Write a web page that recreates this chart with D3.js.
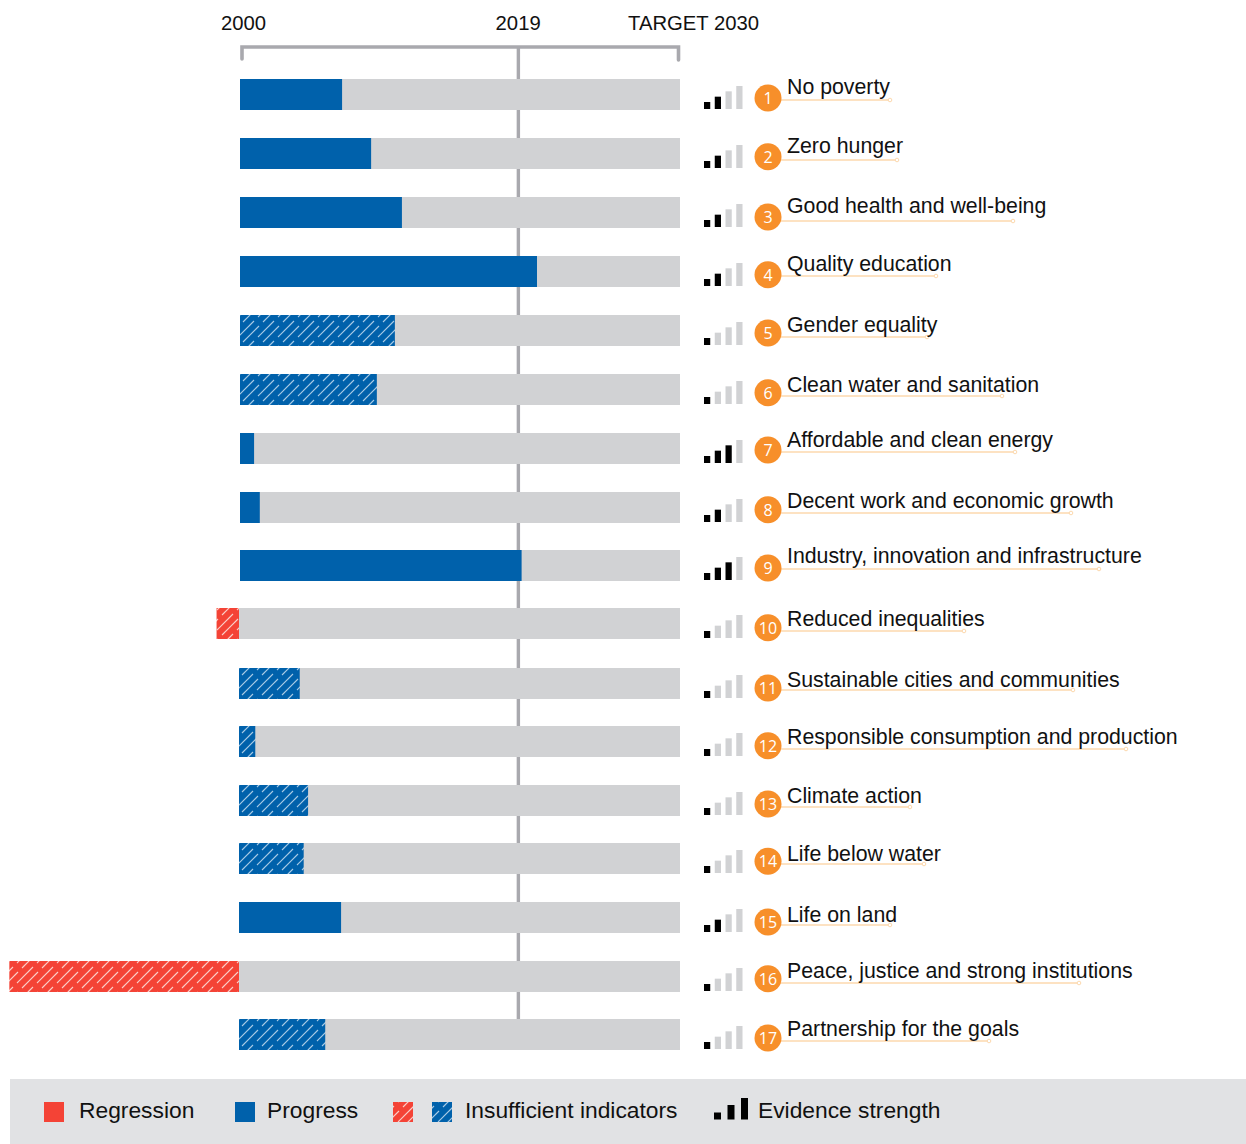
<!DOCTYPE html>
<html>
<head>
<meta charset="utf-8">
<script src="https://cdn.jsdelivr.net/npm/d3@7"></script>
<style>
html, body { margin: 0; padding: 0; background: #fff; }
svg { display: block; font-family: "Liberation Sans", Arial, sans-serif; }
</style>
</head>
<body>
<svg id="chart" width="1246" height="1144"></svg>
<script>
const goals = ["No poverty", "Zero hunger", "Good health and well-being", "Quality education",
  "Gender equality", "Clean water and sanitation", "Affordable and clean energy",
  "Decent work and economic growth", "Industry, innovation and infrastructure",
  "Reduced inequalities", "Sustainable cities and communities",
  "Responsible consumption and production", "Climate action", "Life below water",
  "Life on land", "Peace, justice and strong institutions", "Partnership for the goals"];
// Share of the road to the 2030 target covered so far, in percent
const progress = [23.2, 29.8, 36.8, 67.5, 35.2, 31.1, 3.2, 4.5, 64, -5.1, 13.8, 3.7, 15.7, 14.7, 23.2, -52.2, 19.6];
const insufficient = [0, 0, 0, 0, 1, 1, 0, 0, 0, 1, 1, 1, 1, 1, 0, 1, 1];
const evidence = [2, 2, 2, 2, 1, 1, 3, 2, 3, 1, 1, 1, 1, 1, 2, 1, 1];
const years = [2000, 2019, 2030];
const yearLabels = ["2000", "2019", "TARGET 2030"];

// Hand-set layout nudges: the artwork's rows and captions are not on a perfect grid
const rowShift = [0, 0.25, 0.5, 0.75, 1, 1.25, 1.5, 1.75, 1, 0.25, 1.5, 0.75, 1, 0.25, 0.5, 0.75, 0];
const rowDrift = [0, 0, 0, 0, 0, 0, 0, 0, 0, -1, -1, -1, -1, -1, -1, -1, -1];
const captionShift = [-7.5, -7, -6, -6.5, -4.5, -3, -7, -4.5, -8.5, -4, -2, -3.5, -3.5, -4, -2, -4.5, -5.5];
const badgeShift = [3.5, 3.5, 5, 4, 3.5, 4.5, 3, 4, 3.5, 4.5, 6, 5, 4.5, 3, 5, 3, 3.5];
const ruleShift = [5.5, 6.75, 9, 5.25, 7.5, 7.75, 5, 7.25, 4.5, 7.75, 8, 8.25, 7.5, 5.75, 8, 7.25, 6.5];
const ruleLength = [103, 110, 226, 149, 140, 215, 228, 284, 312, 177, 286, 339, 123, 137, 103, 292, 202];

const BLUE = "#0061ab", RED = "#f44336", TRACK = "#d1d2d4", AXIS = "#a9a9ae", ORANGE = "#f78f2a";

const svg = d3.select("#chart");
const defs = svg.append("defs");

// Broken diagonal hatch; neighbouring strokes break at different heights
function hatch(id, base, stroke) {
  const size = 20, step = 10, dash = 16;
  const p = defs.append("pattern").attr("id", id).attr("patternUnits", "userSpaceOnUse")
    .attr("width", size).attr("height", size);
  p.append("rect").attr("width", size).attr("height", size).attr("fill", base);
  const segs = [];
  for (const c of d3.range(0, 60, step)) {
    for (const off of d3.range(-40, 40, size)) {
      const y0 = off + (c % size ? 11 : 6);
      segs.push([c - y0, y0, c - y0 - dash, y0 + dash]);
    }
  }
  p.selectAll("line").data(segs).join("line")
    .attr("x1", d => d[0]).attr("y1", d => d[1]).attr("x2", d => d[2]).attr("y2", d => d[3])
    .attr("stroke", stroke).attr("stroke-width", 1.1);
}
hatch("hatch-blue", BLUE, "#a9cbe6");
hatch("hatch-red", RED, "#fbcfc9");

const x = d3.scaleLinear().domain([0, 100]).range([240, 680]);
const yearX = d3.scaleLinear().domain([2000, 2030]).range([240, 680]);
const y = d3.scaleBand().domain(d3.range(goals.length)).range([79, 1050]).paddingInner(27.75 / 58.75);
const barY = i => y(i) + rowShift[i];

// Timeline bracket
svg.append("path")
  .attr("d", `M${yearX(2000) + 2},59 V47 H${yearX(2030) - 1.5} V60`)
  .attr("fill", "none").attr("stroke", AXIS).attr("stroke-width", 3.6).attr("stroke-linecap", "round");
svg.append("line")
  .attr("x1", yearX(2019) - 0.3).attr("x2", yearX(2019) - 0.3).attr("y1", 46).attr("y2", 1020)
  .attr("stroke", AXIS).attr("stroke-width", 3.4);

svg.selectAll(".year").data(years).join("text").attr("class", "year")
  .attr("x", (d, i) => i === 2 ? 628 : yearX(d) + (i === 0 ? 3.5 : -0.5))
  .attr("y", 30).attr("font-size", 20.3)
  .attr("text-anchor", (d, i) => i === 2 ? "start" : "middle")
  .attr("fill", "#111")
  .text((d, i) => yearLabels[i]);

const rows = svg.selectAll(".row").data(goals).join("g").attr("class", "row");

rows.append("rect").attr("x", (d, i) => x(0) + rowDrift[i]).attr("width", (d, i) => x(100) - x(0) - rowDrift[i])
  .attr("y", (d, i) => barY(i)).attr("height", y.bandwidth()).attr("fill", TRACK);

// Value bars sit in their own local frame so the hatch starts at each bar's top edge
rows.append("rect")
  .attr("transform", (d, i) => `translate(${rowDrift[i]},${barY(i)})`)
  .attr("x", (d, i) => Math.min(x(0), x(progress[i])))
  .attr("width", (d, i) => Math.abs(x(progress[i]) - x(0)))
  .attr("y", 0).attr("height", y.bandwidth())
  .attr("fill", (d, i) => {
    const neg = progress[i] < 0;
    if (insufficient[i]) return neg ? "url(#hatch-red)" : "url(#hatch-blue)";
    return neg ? RED : BLUE;
  });

// Evidence strength bars
const levels = [1, 2, 3, 4];
const evX = d3.scaleBand().domain(levels).range([704, 742.5]).paddingInner(0.42);
const evH = d3.scaleLinear().domain([1, 4]).range([7, 23]);
rows.each(function (d, i) {
  d3.select(this).selectAll(".ev").data(levels).join("rect").attr("class", "ev")
    .attr("x", l => evX(l)).attr("width", evX.bandwidth())
    .attr("y", l => barY(i) + 30 - evH(l)).attr("height", l => evH(l))
    .attr("fill", l => l <= evidence[i] ? "#000" : TRACK);
});

// Goal captions with their underline and numbered badge
const cy = i => y(i) + y.bandwidth() / 2;
const ruleEnd = i => 787 + ruleLength[i];
rows.append("line")
  .attr("x1", 770).attr("x2", (d, i) => ruleEnd(i))
  .attr("y1", (d, i) => cy(i) + ruleShift[i]).attr("y2", (d, i) => cy(i) + ruleShift[i])
  .attr("stroke", "#fcd9ae").attr("stroke-width", 1.4);
rows.append("circle")
  .attr("cx", (d, i) => ruleEnd(i)).attr("cy", (d, i) => cy(i) + ruleShift[i])
  .attr("r", 1.8).attr("fill", "#fff").attr("stroke", "#fcd9ae").attr("stroke-width", 1);
rows.append("circle")
  .attr("cx", 768).attr("cy", (d, i) => cy(i) + badgeShift[i]).attr("r", 13.5).attr("fill", ORANGE);
rows.append("text")
  .attr("x", 768).attr("y", (d, i) => cy(i) + badgeShift[i] + 6)
  .attr("text-anchor", "middle").attr("font-size", 16).attr("fill", "#fff")
  .attr("font-family", "'Open Sans', sans-serif")
  .text((d, i) => i + 1);
rows.append("text")
  .attr("x", 787).attr("y", (d, i) => cy(i) + captionShift[i] + 6.5)
  .attr("font-size", 21.3).attr("fill", "#111")
  .text(d => d);

// Legend strip
const legend = svg.append("g");
legend.append("rect").attr("x", 10).attr("y", 1079).attr("width", 1236).attr("height", 65).attr("fill", "#e1e2e4");
const swatches = [[44, RED], [235, BLUE], [393, "url(#hatch-red)"], [432, "url(#hatch-blue)"]];
legend.selectAll(".sw").data(swatches).join("rect").attr("class", "sw")
  .attr("x", d => d[0]).attr("y", 1102).attr("width", 20).attr("height", 20).attr("fill", d => d[1]);
const legendTexts = [[79, "Regression"], [267, "Progress"], [465, "Insufficient indicators"], [758, "Evidence strength"]];
legend.selectAll(".lt").data(legendTexts).join("text").attr("class", "lt")
  .attr("x", d => d[0]).attr("y", 1118).attr("font-size", 22.8).attr("fill", "#111").text(d => d[1]);
const legendBars = [[714, 7], [727.5, 14.5], [741, 21.5]];
legend.selectAll(".lb").data(legendBars).join("rect").attr("class", "lb")
  .attr("x", d => d[0]).attr("width", 7).attr("y", d => 1119.5 - d[1]).attr("height", d => d[1]).attr("fill", "#000");
</script>
</body>
</html>
